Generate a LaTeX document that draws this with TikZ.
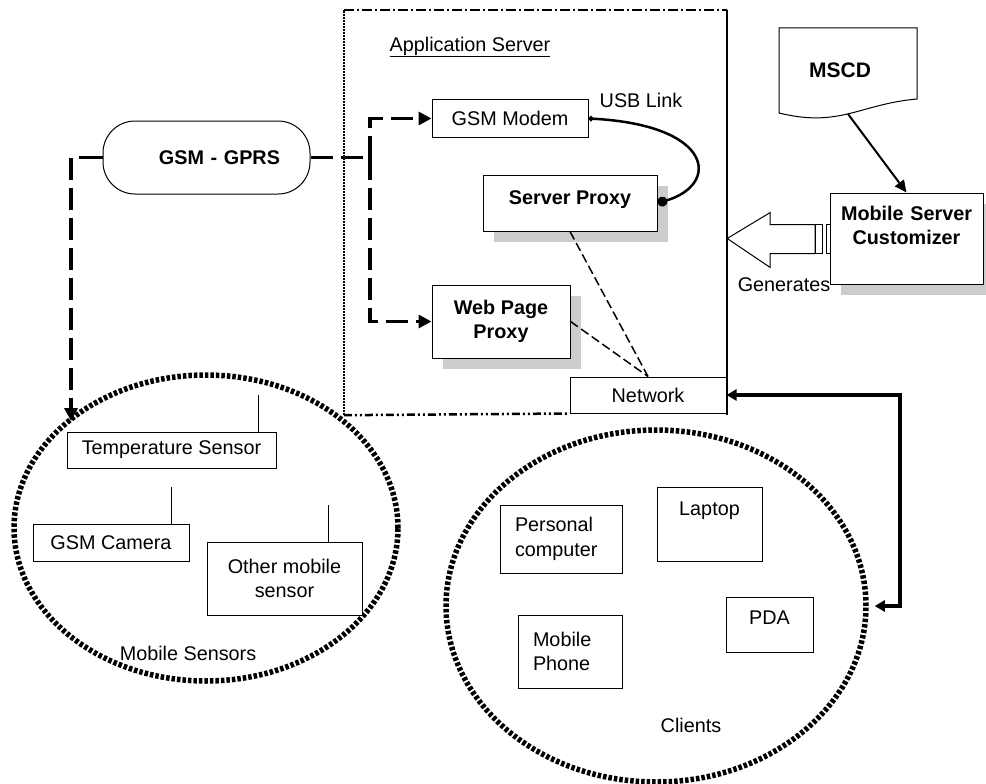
\documentclass[tikz,border=0pt]{standalone}
\usepackage{fontspec}
\setmainfont{Liberation Sans}
\usetikzlibrary{arrows.meta,shapes.geometric,shadows}

\newcommand{\txtsize}{\fontsize{19.8}{24.5}\selectfont}

\tikzset{
  box/.style={draw, fill=white, line width=1pt, inner sep=2pt, font=\txtsize},
  boldbox/.style={box, font=\txtsize\bfseries},
  shadowed/.style={drop shadow={shadow xshift=11pt, shadow yshift=-11pt, fill=gray!40, opacity=1}},
  plain/.style={font=\txtsize, inner sep=0pt},
  link/.style={line width=3.5pt, dash pattern=on 22pt off 8pt, -{Triangle[length=13pt,width=13pt]}},
  netlink/.style={line width=1.5pt, dash pattern=on 9pt off 4pt},
  ring/.style={ellipse, draw, line width=5.5pt, dash pattern=on 3.5pt off 2pt, inner sep=0pt},
  antenna/.style={line width=1pt}
}

\begin{document}
\begin{tikzpicture}[x=1pt, y=-1pt]
  \useasboundingbox (0,0) rectangle (986,784);

  % application server
  \node[minimum width=383pt, minimum height=405pt, inner sep=0pt] (appsrv) at (535.5,212.5) {};
  \node[plain] (apptitle) at (470,47) {\underline{Application Server}};
  \node[box, minimum width=156pt, minimum height=37pt] (modem) at (510,118.5) {GSM Modem};
  \node[boldbox, shadowed, minimum width=174pt, minimum height=56pt,
        text height=14pt, text depth=12pt] (sproxy) at (570,203) {Server Proxy};
  \node[boldbox, shadowed, minimum width=138pt, minimum height=73pt, align=center]
    (wpp) at (501,321.5) {Web Page\\Proxy};
  \node[box, minimum width=156pt, minimum height=36pt] (net) at (648,395) {Network};
  \draw[line width=2pt, densely dotted] (appsrv.south west) -- (appsrv.north west);
  \draw[line width=2pt, dash pattern=on 10pt off 3pt on 2pt off 3pt] (appsrv.north west) -- (appsrv.north east);
  \draw[line width=1.5pt] (appsrv.north east) -- (appsrv.south east);
  \draw[line width=2.5pt, dash pattern=on 8pt off 3pt on 2pt off 3pt on 2pt off 3pt] (appsrv.south west) -- (net.south west);

  \node[plain] (usb) at (641,100) {USB Link};
  \draw[line width=2.5pt, {Circle[length=5pt]}-{Circle[length=10pt]}]
    (modem.east) .. controls (715,125) and (720,185) .. (sproxy.east);
  \draw[netlink] (sproxy.south) -- (net.north);
  \draw[netlink] (wpp.east) -- (net.north);

  % gsm - gprs
  \node[draw, line width=1pt, rounded corners=32pt, minimum height=73pt,
        text width=147pt, inner xsep=30pt, align=right, font=\txtsize\bfseries]
    (gprs) at (206.5,157.5) {GSM - GPRS};
  \coordinate (split) at (370,157.5);
  \coordinate (drop) at (71,157.5);
  \coordinate (sensin) at (71,421);
  \draw[link, -] (gprs.east) -- (split);
  \draw[link] (split) |- (modem.west);
  \draw[link] (split) |- (wpp.west);
  \draw[line width=3.5pt] (gprs.west) -- (79,157.5);
  \draw[link] (drop) -- (sensin);

  % mobile sensors
  \node[ring, minimum width=384pt, minimum height=306pt] (sensors) at (206,528) {};
  \node[box, minimum width=209pt, minimum height=36pt] (tsens) at (171.5,450) {Temperature Sensor};
  \node[box, minimum width=156pt, minimum height=37pt] (cam) at (111,542.5) {GSM Camera};
  \node[box, minimum width=155pt, minimum height=73pt, align=center]
    (othersens) at (284.5,578.5) {Other mobile\\sensor};
  \draw[antenna] ([xshift=86.5pt]tsens.north) -- ++(0,-37);
  \draw[antenna] ([xshift=60pt]cam.north) -- ++(0,-37);
  \draw[antenna] ([xshift=43.5pt]othersens.north) -- ++(0,-37);
  \node[plain] (senslabel) at (188,653) {Mobile Sensors};

  % clients
  \node[ring, minimum width=420pt, minimum height=352pt] (clients) at (656,606) {};
  \node[box, minimum width=122pt, minimum height=68pt, text width=92pt,
        inner xsep=15pt, align=left] (pc) at (561,539) {Personal\\computer};
  \node[box, minimum width=105pt, minimum height=74pt,
        text height=14pt, text depth=32pt] (laptop) at (709.5,524) {Laptop};
  \node[box, minimum width=104pt, minimum height=73pt, text width=74pt,
        inner xsep=15pt, align=left] (phone) at (570,651.5) {Mobile\\Phone};
  \node[box, minimum width=87pt, minimum height=55pt,
        text height=14pt, text depth=15pt] (pda) at (769.5,624.5) {PDA};
  \node[plain] (clientslabel) at (691,725) {Clients};
  \coordinate (turn) at (900,395);
  \draw[line width=3.5pt, {Triangle[length=10pt,width=11pt]}-{Triangle[length=10pt,width=11pt]}]
    (net.east) -- (turn) |- ([xshift=6pt]clients.east);

  % customizer
  \draw[line width=1pt, fill=white] (779,113) -- (779,28) -- (917,28) -- (917,99)
    .. controls (860,104) and (840,128) .. (779,113) -- cycle;
  \node[plain, font=\fontsize{21}{24}\selectfont\bfseries] (mscd) at (840,70) {MSCD};
  \coordinate (mscdb) at (848,114);
  \node[boldbox, shadowed, minimum width=153pt, minimum height=91pt, text width=140pt,
        align=center, text height=14pt, text depth=51pt]
    (msc) at (906.5,238.5) {Mobile Server\\Customizer};
  \draw[line width=2pt, -{Triangle[length=12pt,width=11pt]}] (mscdb) -- (msc.north);
  \draw[line width=1pt, fill=white] (appsrv.east |- msc.west) -- ++(43,-26) -- ++(0,12)
    -- ++(45,0) -- ++(0,29) -- ++(-45,0) -- ++(0,14) -- cycle;
  \draw[line width=1pt] (815,224.5) rectangle ++(7,29);
  \draw[line width=1pt] (826,224.5) rectangle ++(4,29);
  \node[plain] (gen) at (784,285) {Generates};
\end{tikzpicture}
\end{document}
